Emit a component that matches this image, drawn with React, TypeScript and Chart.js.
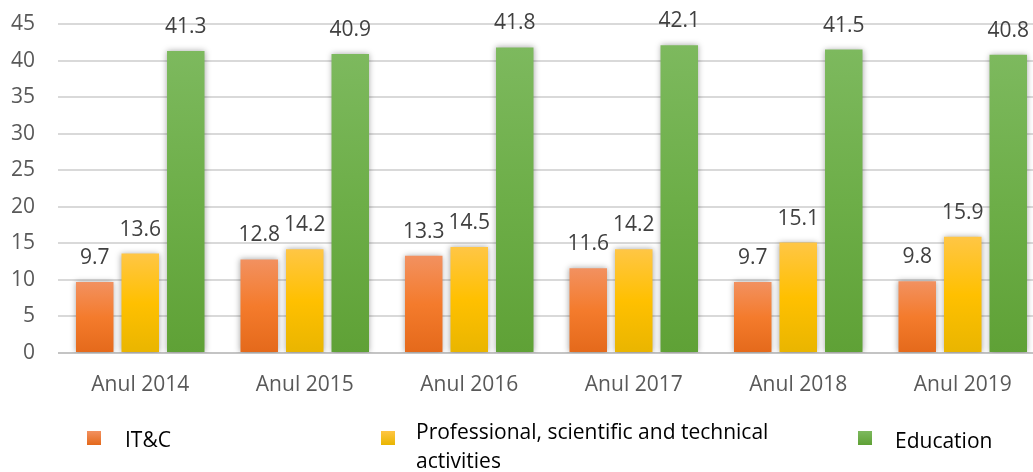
import React, { useEffect, useRef } from "react";
import { Chart, registerables } from "chart.js";

Chart.register(...registerables);

const categories = ["Anul 2014", "Anul 2015", "Anul 2016", "Anul 2017", "Anul 2018", "Anul 2019"];
const itcValues = [9.7, 12.8, 13.3, 11.6, 9.7, 9.8];
const professionalValues = [13.6, 14.2, 14.5, 14.2, 15.1, 15.9];
const educationValues = [41.3, 40.9, 41.8, 42.1, 41.5, 40.8];
const yTicks = [0, 5, 10, 15, 20, 25, 30, 35, 40, 45];
const seriesNames = ["IT&C", "Professional, scientific and technical|activities", "Education"];

const FONT = "'Open Sans', 'Noto Sans', sans-serif";

const palettes = [
  { top: "#f29160", mid: "#f47b2c", bottom: "#e4691b" },
  { top: "#ffc645", mid: "#ffc000", bottom: "#e9b500" },
  { top: "#7db95e", mid: "#6dae48", bottom: "#5fa136" },
];

function barGradient(idx: number) {
  return (c: any) => {
    const chart = c.chart;
    const p = palettes[idx];
    if (!chart.chartArea || c.type !== "data") return p.mid;
    const y = chart.scales.y;
    const top = y.getPixelForValue(c.raw);
    const bot = y.getPixelForValue(0);
    if (!isFinite(top) || !isFinite(bot) || top === bot) return p.mid;
    const g = chart.ctx.createLinearGradient(0, top, 0, bot);
    g.addColorStop(0, p.top);
    g.addColorStop(0.5, p.mid);
    g.addColorStop(1, p.bottom);
    return g;
  };
}

const shadowPlugin = {
  id: "barShadow",
  beforeDatasetsDraw(chart: any) {
    const ctx = chart.ctx;
    ctx.save();
    ctx.shadowColor = "rgba(0,0,0,0.35)";
    ctx.shadowBlur = 6;
    ctx.shadowOffsetX = 0;
    ctx.shadowOffsetY = 0;
  },
  afterDatasetsDraw(chart: any) {
    chart.ctx.restore();
  },
};

const labelPlugin = {
  id: "valueLabels",
  afterDatasetsDraw(chart: any) {
    const ctx = chart.ctx;
    ctx.save();
    ctx.font = `21px ${FONT}`;
    ctx.fillStyle = "#404040";
    ctx.textAlign = "center";
    ctx.textBaseline = "middle";
    chart.data.datasets.forEach((ds: any, i: number) => {
      const meta = chart.getDatasetMeta(i);
      meta.data.forEach((el: any, j: number) => {
        ctx.fillText(Number(ds.data[j]).toFixed(1), el.x, el.y - 24);
      });
    });
    ctx.restore();
  },
};

const legendPlugin = {
  id: "customLegend",
  afterDraw(chart: any) {
    const ctx = chart.ctx;
    const items = [
      { sx: 87, tx: 125, baseline: 447 },
      { sx: 381, tx: 416, baseline: 439 },
      { sx: 858, tx: 895, baseline: 448 },
    ];
    ctx.save();
    ctx.font = `21px ${FONT}`;
    ctx.fillStyle = "#000";
    ctx.textAlign = "left";
    ctx.textBaseline = "alphabetic";
    items.forEach((it, i) => {
      const p = palettes[i];
      const g = ctx.createLinearGradient(0, 431, 0, 445);
      g.addColorStop(0, p.top);
      g.addColorStop(1, p.bottom);
      ctx.fillStyle = g;
      ctx.fillRect(it.sx, 431, 14, 14);
      ctx.fillStyle = "#000";
      const lines = seriesNames[i].split("|");
      lines.forEach((ln, k) => {
        ctx.fillText(ln, it.tx, it.baseline + k * 29);
      });
    });
    ctx.restore();
  },
};

export default function App() {
  const canvasRef = useRef<HTMLCanvasElement | null>(null);

  useEffect(() => {
    document.documentElement.style.overflow = "hidden";
    document.body.style.overflow = "hidden";
    document.body.style.margin = "0";
    const canvas = canvasRef.current;
    if (!canvas) return;
    const chart = new Chart(canvas, {
      type: "bar",
      data: {
        labels: categories,
        datasets: [
          { label: "IT&C", data: itcValues, backgroundColor: barGradient(0) },
          { label: "Professional, scientific and technical activities", data: professionalValues, backgroundColor: barGradient(1) },
          { label: "Education", data: educationValues, backgroundColor: barGradient(2) },
        ],
      },
      options: {
        animation: false,
        responsive: false,
        devicePixelRatio: 1,
        layout: { padding: { top: 24, right: 5, left: 0, bottom: 0 } },
        datasets: {
          bar: { categoryPercentage: 0.83, barPercentage: 0.824 },
        },
        plugins: {
          legend: { display: false },
          tooltip: { enabled: false },
          title: { display: false },
        },
        scales: {
          x: {
            grid: { display: false, drawTicks: false },
            border: { display: false },
            ticks: {
              color: "#595959",
              font: { family: FONT, size: 21 },
              padding: 19,
              maxRotation: 0,
            },
            afterFit(scale: any) {
              scale.height = 119;
              scale.paddingLeft = 0;
              scale.paddingRight = 0;
            },
          },
          y: {
            min: 0,
            max: 45,
            afterBuildTicks(scale: any) {
              scale.ticks = yTicks.map((v) => ({ value: v }));
            },
            grid: {
              drawTicks: false,
              lineWidth: 2,
              color: (c: any) => (c.tick && c.tick.value === 0 ? "#c4c4c4" : "#d9d9d9"),
            },
            border: { display: false },
            ticks: {
              color: "#595959",
              font: { family: FONT, size: 21 },
              padding: 23,
            },
            afterFit(scale: any) {
              scale.width = 58;
              scale.paddingTop = 0;
              scale.paddingBottom = 0;
            },
          },
        },
      },
      plugins: [shadowPlugin, labelPlugin, legendPlugin],
    });
    return () => chart.destroy();
  }, []);

  return (
    <div style={{ position: "fixed", left: 0, top: 0, width: 1050, height: 472, overflow: "hidden", background: "#fff" }}>
      <canvas ref={canvasRef} width={1050} height={472} style={{ width: 1050, height: 472, display: "block" }} />
    </div>
  );
}
